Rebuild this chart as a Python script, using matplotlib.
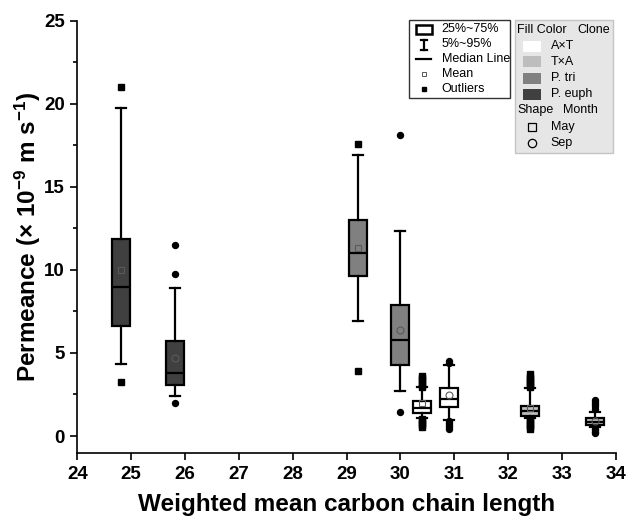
import matplotlib
matplotlib.use("Agg")
import matplotlib.pyplot as plt
from matplotlib.patches import Rectangle
from matplotlib.lines import Line2D

plt.rcParams['font.family'] = ['Liberation Sans', 'DejaVu Sans']
plt.rcParams['mathtext.fontset'] = 'custom'
plt.rcParams['mathtext.rm'] = 'Liberation Sans:bold'
plt.rcParams['mathtext.default'] = 'rm'

# ---------------- data ----------------
positions = [24.81, 25.81, 29.21, 30.00, 30.40, 30.90, 32.41, 33.61]
clones = ['P. euph', 'P. euph', 'P. tri', 'P. tri', 'A×T', 'A×T', 'T×A', 'T×A']
months = ['May', 'Sep', 'May', 'Sep', 'May', 'Sep', 'May', 'Sep']
q1 = [6.62, 3.07, 9.65, 4.27, 1.40, 1.77, 1.22, 0.66]
median = [8.99, 3.81, 11.04, 5.80, 1.71, 2.23, 1.52, 0.86]
q3 = [11.84, 5.72, 13.00, 7.91, 2.13, 2.87, 1.83, 1.06]
whisker_low = [4.32, 2.41, 6.92, 2.73, 1.10, 0.96, 1.10, 0.52]
whisker_high = [19.73, 8.91, 16.90, 12.36, 2.93, 4.26, 2.87, 1.46]
means = [9.98, 4.71, 11.30, 6.38, 1.97, 2.47, 1.67, 0.92]
outliers = [
    [21.03, 3.23],
    [11.48, 9.77, 2.00],
    [17.56, 3.91],
    [18.12, 1.43],
    [3.61, 3.48, 3.35, 3.22, 3.09, 2.98, 1.02, 0.90, 0.78, 0.66, 0.56],
    [4.53, 4.42, 0.90, 0.78, 0.66, 0.54, 0.43],
    [3.71, 3.58, 3.45, 3.32, 3.19, 3.06, 2.96, 1.02, 0.90, 0.78, 0.66, 0.54, 0.42],
    [2.15, 2.03, 1.91, 1.79, 1.64, 0.44, 0.35, 0.26, 0.16],
]
x_ticks = [24, 25, 26, 27, 28, 29, 30, 31, 32, 33, 34]
y_ticks = [0, 5, 10, 15, 20, 25]

clone_colors = {'A×T': '#ffffff', 'T×A': '#bdbdbd', 'P. tri': '#808080', 'P. euph': '#404040'}
month_markers = {'May': 's', 'Sep': 'o'}

W, H = 627, 526
fig = plt.figure(figsize=(W / 100, H / 100), dpi=100)
ax = fig.add_axes([77.3 / W, 1 - 453.3 / H, (615.7 - 77.3) / W, (453.3 - 20.7) / H])

for i in range(len(positions)):
    stats = [dict(med=median[i], q1=q1[i], q3=q3[i], whislo=whisker_low[i],
                  whishi=whisker_high[i], mean=means[i], fliers=outliers[i])]
    mk = month_markers[months[i]]
    ax.bxp(stats, positions=[positions[i]], widths=0.34, capwidths=0.18,
           patch_artist=True, showmeans=True, manage_ticks=False,
           boxprops=dict(facecolor=clone_colors[clones[i]], edgecolor='black', linewidth=1.6),
           whiskerprops=dict(color='black', linewidth=1.6),
           capprops=dict(color='black', linewidth=1.6),
           medianprops=dict(color='black', linewidth=1.6),
           meanprops=dict(marker=mk, markerfacecolor='none', markeredgecolor='#5a5a5a',
                          markersize=5, markeredgewidth=0.8),
           flierprops=dict(marker=mk, markerfacecolor='black', markeredgecolor='black',
                           markersize=4.3, linestyle='none'))

ax.set_xlim(24, 34)
ax.set_ylim(-1.04, 25)
ax.set_xticks(x_ticks)
ax.set_xticklabels([str(t) for t in x_ticks])
ax.set_yticks(y_ticks)
ax.set_yticks([2.5, 7.5, 12.5, 17.5, 22.5], minor=True)
ax.spines['top'].set_visible(False)
ax.spines['right'].set_visible(False)
for s in ['left', 'bottom']:
    ax.spines[s].set_linewidth(1.2)
ax.tick_params(axis='both', which='major', direction='out', length=5, width=1.2,
               labelsize=13.5, pad=4)
ax.tick_params(axis='y', which='minor', direction='out', length=3, width=1.2)
for lab in ax.get_xticklabels() + ax.get_yticklabels():
    lab.set_fontweight('bold')

ax.set_xlabel('Weighted mean carbon chain length', fontsize=17.5, fontweight='bold')
ax.set_ylabel('Permeance (× 10$^{-9}$ m s$^{-1}$)', fontsize=17.5, fontweight='bold')
ax.xaxis.set_label_coords(0.5, -(505 - 453.3) / 432.6, transform=ax.transAxes)
ax.xaxis.label.set_va('center')
ax.yaxis.set_label_coords(-(77.3 - 28) / 538.4, 0.5, transform=ax.transAxes)
ax.yaxis.label.set_va('center')

# ---------------- legends (overlay in pixel coordinates) ----------------
ov = fig.add_axes([0, 0, 1, 1], facecolor='none')
ov.set_xlim(0, W)
ov.set_ylim(H, 0)
ov.axis('off')

fs = 9
# legend 1: box-plot elements
ov.add_patch(Rectangle((409, 20), 101, 77.7, facecolor='white', edgecolor='#333333', lw=1.0))
ov.add_patch(Rectangle((416, 24.5), 16, 9.5, facecolor='none', edgecolor='black', lw=1.8))
ov.add_line(Line2D([424, 424], [40, 49.5], color='black', lw=1.6))
ov.add_line(Line2D([421, 427], [40, 40], color='black', lw=1.6))
ov.add_line(Line2D([421, 427], [49.5, 49.5], color='black', lw=1.6))
ov.add_line(Line2D([416, 431], [59.3, 59.3], color='black', lw=1.6))
ov.plot([424], [74.3], marker='s', markersize=3.2, markerfacecolor='none',
        markeredgecolor='#555555', markeredgewidth=0.7)
ov.plot([424], [89.3], marker='s', markersize=3.5, color='black')
leg1 = ['25%~75%', '5%~95%', 'Median Line', 'Mean', 'Outliers']
for t, y in zip(leg1, [29.3, 44, 58.7, 74.3, 89.3]):
    ov.text(441.7, y, t, fontsize=fs, va='center', ha='left')

# legend 2: fill colour / shape
ov.add_patch(Rectangle((515, 20), 98.3, 132.7, facecolor='#e6e6e6', edgecolor='#c4c4c4', lw=1.0))
ov.text(517, 30, 'Fill Color', fontsize=fs, va='center', ha='left')
ov.text(577, 30, 'Clone', fontsize=fs, va='center', ha='left')
clone_order = ['A×T', 'T×A', 'P. tri', 'P. euph']
for c, y in zip(clone_order, [46, 61.7, 78.3, 94.3]):
    ov.add_patch(Rectangle((523.3, y - 5.5), 17.7, 11, facecolor=clone_colors[c], edgecolor='none'))
    ov.text(550.7, y, c, fontsize=fs, va='center', ha='left')
ov.text(517, 110, 'Shape', fontsize=fs, va='center', ha='left')
ov.text(563.3, 110, 'Month', fontsize=fs, va='center', ha='left')
for m, y in zip(['May', 'Sep'], [126.7, 143.3]):
    ov.plot([531.7], [y], marker=month_markers[m], markersize=5.5 if m == 'May' else 6,
            markerfacecolor='none', markeredgecolor='black', markeredgewidth=0.9)
    ov.text(550.7, y, m, fontsize=fs, va='center', ha='left')

fig.savefig('out.png', dpi=100)
